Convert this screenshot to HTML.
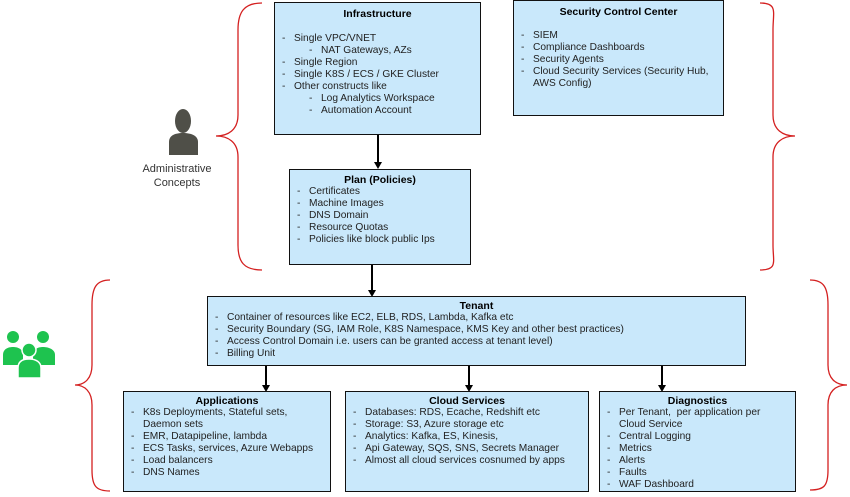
<!DOCTYPE html>
<html><head><meta charset="utf-8"><style>
body{margin:0;width:850px;height:497px;background:#fff;position:relative;overflow:hidden;font-family:"Liberation Sans",sans-serif;color:#222;}
.b{position:absolute;background:#c9e8fb;border:1.5px solid #111;box-sizing:border-box;font-size:10.2px;line-height:12px;}
.t{position:absolute;left:0;right:0;text-align:center;font-weight:bold;color:#000;font-size:10.5px;}
.l{position:absolute;left:19px;white-space:nowrap;}
.l i{position:absolute;left:-12px;font-style:normal;}
.s{left:46px;}
svg{position:absolute;left:0;top:0;}
</style></head><body>
<svg width="850" height="497">
<g fill="none" stroke="#d42020" stroke-width="1.3">
<path d="M262,3 C244,3 238,12 238,30 L238,115 C238,130 228,136 216,136 C228,136 238,142 238,157 L238,245 C238,262 244,270 262,270"/>
<path d="M760,3 C778,3 773,12 773,30 L773,115 C773,130 783,136 795,136 C783,136 773,142 773,157 L773,245 C773,262 778,270 760,270"/>
<path d="M110,280 C96,280 92,288 92,305 L92,365 C92,378 85,385 75,385 C85,385 92,392 92,405 L92,470 C92,486 96,491 110,491"/>
<path d="M810,280 C824,280 828,288 828,305 L828,365 C828,378 835,385 847,385 C835,385 828,392 828,405 L828,470 C828,486 824,490 810,490"/>
</g>
<g stroke="#000" stroke-width="2">
<line x1="378" y1="134" x2="378" y2="163"/>
<line x1="372" y1="264" x2="372" y2="291"/>
<line x1="266" y1="365" x2="266" y2="386"/>
<line x1="469" y1="365" x2="469" y2="386"/>
<line x1="662" y1="365" x2="662" y2="386"/>
</g>
<g fill="#000">
<path d="M374,162 L382,162 L378,169Z"/>
<path d="M368,290 L376,290 L372,297Z"/>
<path d="M262,385 L270,385 L266,392Z"/>
<path d="M465,385 L473,385 L469,392Z"/>
<path d="M658,385 L666,385 L662,392Z"/>
</g>
<g fill="#4f4f48">
<ellipse cx="183" cy="121" rx="8" ry="12"/>
<path d="M169,155 L169,142 C169,136 174,133 183,133 C192,133 198,136 198,142 L198,155Z"/>
</g>
<g fill="#1ec34f">
<circle cx="13" cy="337" r="6"/><circle cx="43" cy="337" r="6"/>
<path d="M3,365 L3,355 C3,349 8,347 13,347 C18,347 23,349 23,355 L23,365Z"/>
<path d="M33,365 L33,355 C33,349 38,347 43,347 C48,347 55,349 55,355 L55,365Z"/>
<circle cx="29" cy="350" r="7" stroke="#fff" stroke-width="1.5"/>
<path d="M18,378 L18,368 C18,362 22,359 29,359 C36,359 41,362 41,368 L41,378Z" stroke="#fff" stroke-width="1.5"/>
</g>
</svg>
<div style="position:absolute;left:127px;top:162px;width:100px;text-align:center;font-size:11px;line-height:14px;color:#333">Administrative<br>Concepts</div>

<div class="b" style="left:274px;top:2px;width:207px;height:133px">
<div class="t" style="top:5px">Infrastructure</div>
<div class="l" style="top:30px"><i>-</i>Single VPC/VNET</div>
<div class="l s" style="top:42px"><i>-</i>NAT Gateways, AZs</div>
<div class="l" style="top:54px"><i>-</i>Single Region</div>
<div class="l" style="top:66px"><i>-</i>Single K8S / ECS / GKE Cluster</div>
<div class="l" style="top:78px"><i>-</i>Other constructs like</div>
<div class="l s" style="top:90px"><i>-</i>Log Analytics Workspace</div>
<div class="l s" style="top:102px"><i>-</i>Automation Account</div>
</div>

<div class="b" style="left:513px;top:0px;width:211px;height:116px">
<div class="t" style="top:5px">Security Control Center</div>
<div class="l" style="top:29px"><i>-</i>SIEM</div>
<div class="l" style="top:41px"><i>-</i>Compliance Dashboards</div>
<div class="l" style="top:53px"><i>-</i>Security Agents</div>
<div class="l" style="top:65px"><i>-</i>Cloud Security Services (Security Hub,</div>
<div class="l" style="top:77px">AWS Config)</div>
</div>

<div class="b" style="left:289px;top:169px;width:182px;height:96px">
<div class="t" style="top:4px">Plan (Policies)</div>
<div class="l" style="top:16px"><i>-</i>Certificates</div>
<div class="l" style="top:28px"><i>-</i>Machine Images</div>
<div class="l" style="top:40px"><i>-</i>DNS Domain</div>
<div class="l" style="top:52px"><i>-</i>Resource Quotas</div>
<div class="l" style="top:64px"><i>-</i>Policies like block public Ips</div>
</div>

<div class="b" style="left:207px;top:296px;width:539px;height:70px">
<div class="t" style="top:3px">Tenant</div>
<div class="l" style="top:15px"><i>-</i>Container of resources like EC2, ELB, RDS, Lambda, Kafka etc</div>
<div class="l" style="top:27px"><i>-</i>Security Boundary (SG, IAM Role, K8S Namespace, KMS Key and other best practices)</div>
<div class="l" style="top:39px"><i>-</i>Access Control Domain i.e. users can be granted access at tenant level)</div>
<div class="l" style="top:51px"><i>-</i>Billing Unit</div>
</div>

<div class="b" style="left:123px;top:391px;width:208px;height:101px">
<div class="t" style="top:3px">Applications</div>
<div class="l" style="top:15px"><i>-</i>K8s Deployments, Stateful sets,</div>
<div class="l" style="top:27px">Daemon sets</div>
<div class="l" style="top:39px"><i>-</i>EMR, Datapipeline, lambda</div>
<div class="l" style="top:51px"><i>-</i>ECS Tasks, services, Azure Webapps</div>
<div class="l" style="top:63px"><i>-</i>Load balancers</div>
<div class="l" style="top:75px"><i>-</i>DNS Names</div>
</div>

<div class="b" style="left:345px;top:391px;width:244px;height:101px">
<div class="t" style="top:3px">Cloud Services</div>
<div class="l" style="top:15px"><i>-</i>Databases: RDS, Ecache, Redshift etc</div>
<div class="l" style="top:27px"><i>-</i>Storage: S3, Azure storage etc</div>
<div class="l" style="top:39px"><i>-</i>Analytics: Kafka, ES, Kinesis,</div>
<div class="l" style="top:51px"><i>-</i>Api Gateway, SQS, SNS, Secrets Manager</div>
<div class="l" style="top:63px"><i>-</i>Almost all cloud services cosnumed by apps</div>
</div>

<div class="b" style="left:599px;top:391px;width:197px;height:101px">
<div class="t" style="top:3px">Diagnostics</div>
<div class="l" style="top:15px"><i>-</i>Per Tenant,&nbsp; per application per</div>
<div class="l" style="top:27px">Cloud Service</div>
<div class="l" style="top:39px"><i>-</i>Central Logging</div>
<div class="l" style="top:51px"><i>-</i>Metrics</div>
<div class="l" style="top:63px"><i>-</i>Alerts</div>
<div class="l" style="top:75px"><i>-</i>Faults</div>
<div class="l" style="top:87px"><i>-</i>WAF Dashboard</div>
</div>
</body></html>
